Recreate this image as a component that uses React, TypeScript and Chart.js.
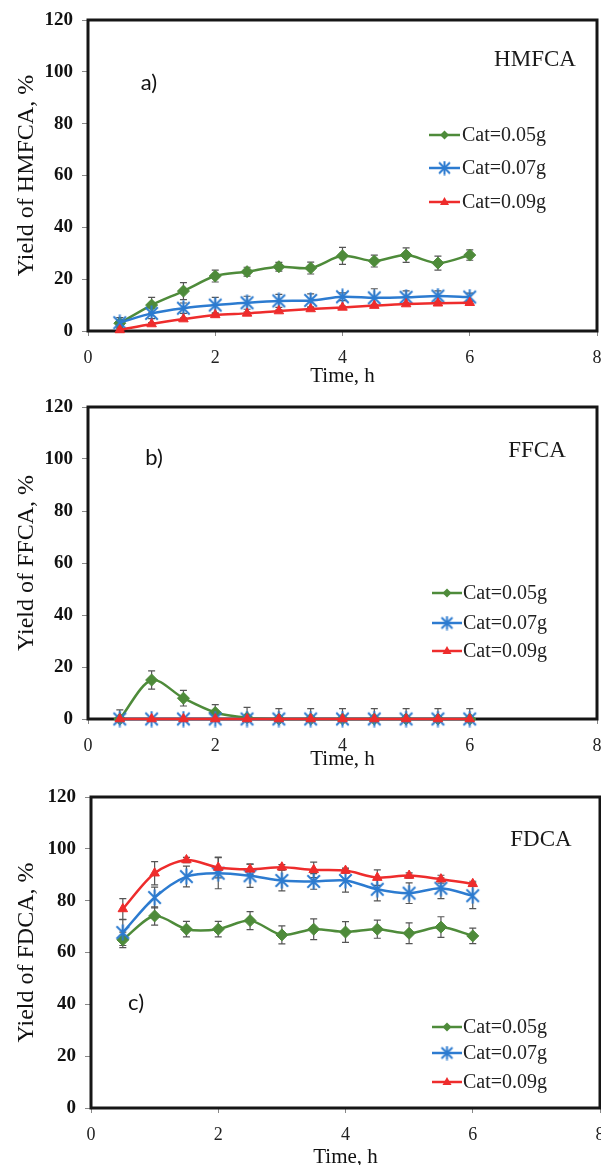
import React, { useEffect, useRef } from "react";
import { Chart, registerables } from "chart.js";

Chart.register(...registerables);

// ---------------- DATA ----------------
const times = [0.5, 1, 1.5, 2, 2.5, 3, 3.5, 4, 4.5, 5, 5.5, 6];
const seriesLabels = ["Cat=0.05g", "Cat=0.07g", "Cat=0.09g"];
const xTickValues = [0, 2, 4, 6, 8];
const yTickValues = [0, 20, 40, 60, 80, 100, 120];

// a) HMFCA
const hmfca005 = [3, 10, 15.4, 21.2, 22.9, 24.8, 24.3, 29, 27, 29.3, 26.2, 29.3];
const hmfca007 = [3.2, 6.8, 8.8, 10, 10.9, 11.6, 11.8, 13.2, 12.8, 13, 13.5, 13.1];
const hmfca009 = [0.4, 2.7, 4.6, 6.2, 6.8, 7.7, 8.5, 9.1, 9.8, 10.4, 10.7, 10.9];
const hmfca005Err = [1.5, 3, 3.3, 2.3, 1.7, 1.7, 2.3, 3.3, 2.3, 2.8, 2.7, 2];
const hmfca007Err = [2, 2, 2, 3, 2.5, 2.5, 2.5, 1.5, 3.5, 2.5, 2, 1.5];
const hmfca009Err = [0.5, 0.5, 0.5, 0.5, 0.5, 0.5, 0.5, 0.5, 0.5, 0.5, 0.5, 0.5];

// b) FFCA
const ffca005 = [0, 15, 8, 2.5, 0.5, 0, 0, 0, 0, 0, 0, 0];
const ffca007 = [0, 0, 0, 0, 0, 0, 0, 0, 0, 0, 0, 0];
const ffca009 = [0, 0, 0, 0, 0, 0, 0, 0, 0, 0, 0, 0];
const ffca005Err = [3.5, 3.5, 3, 3, 4, 4, 4, 4, 4, 4, 4, 4];
const ffca007Err = [0, 0, 0, 0, 0, 0, 0, 0, 0, 0, 0, 0];
const ffca009Err = [0, 0, 0, 0, 0, 0, 0, 0, 0, 0, 0, 0];

// c) FDCA
const fdca005 = [64.9, 74.1, 69, 69, 72.3, 66.8, 69, 67.9, 69, 67.4, 69.8, 66.4];
const fdca007 = [67.7, 81.2, 89.3, 90.6, 89.6, 87.8, 87.4, 87.8, 84.4, 82.9, 84.8, 81.9];
const fdca009 = [76.8, 90.6, 95.7, 92.8, 92.1, 92.9, 91.9, 91.6, 88.9, 89.7, 88.3, 86.5];
const fdca005Err = [3, 3.5, 3, 3, 3.5, 3.5, 4, 4, 3.5, 4, 4, 3];
const fdca007Err = [5, 4, 4, 6, 4.5, 4, 3, 4.5, 4.5, 4, 4, 5];
const fdca009Err = [4, 4.5, 1, 4, 2, 1, 3, 1, 3, 1, 1.5, 1];

// ---------------- STYLE ----------------
const GREEN = "#4E8B3A";
const BLUE = "#2C7BD0";
const RED = "#EE2C2C";
const SERIF = "'Liberation Serif', 'Times New Roman', serif";
const W = 601;
const RIGHT_GAP = 10; // space Chart.js keeps right of the plot area

type Panel = {
  yTitle: string;
  compound: string;
  tag: string;
  series: number[][];
  errors: number[][];
  top: number;
  canvasH: number;
  area: { top: number; bottom: number; left: number; right: number };
  legendYs: number[];
  legendX1: number;
  legendX2: number;
  legendTextX: number;
  compoundPos: [number, number];
  tagPos: [number, number];
  xTitlePad: number;
};

const panels: Panel[] = [
  {
    yTitle: "Yield of HMFCA, %",
    compound: "HMFCA",
    tag: "a)",
    series: [hmfca005, hmfca007, hmfca009],
    errors: [hmfca005Err, hmfca007Err, hmfca009Err],
    top: 0,
    canvasH: 385,
    area: { top: 20, bottom: 331, left: 88, right: 596 },
    legendYs: [135, 168, 202],
    legendX1: 429,
    legendX2: 460,
    legendTextX: 462,
    compoundPos: [535, 60],
    tagPos: [149, 83],
    xTitlePad: -2,
  },
  {
    yTitle: "Yield of FFCA, %",
    compound: "FFCA",
    tag: "b)",
    series: [ffca005, ffca007, ffca009],
    errors: [ffca005Err, ffca007Err, ffca009Err],
    top: 385,
    canvasH: 385,
    area: { top: 22, bottom: 334, left: 88, right: 596 },
    legendYs: [208, 238, 266],
    legendX1: 432,
    legendX2: 462,
    legendTextX: 463,
    compoundPos: [537, 66],
    tagPos: [154, 73],
    xTitlePad: 0,
  },
  {
    yTitle: "Yield of FDCA, %",
    compound: "FDCA",
    tag: "c)",
    series: [fdca005, fdca007, fdca009],
    errors: [fdca005Err, fdca007Err, fdca009Err],
    top: 770,
    canvasH: 395,
    area: { top: 27, bottom: 338, left: 91, right: 599 },
    legendYs: [257, 283, 312],
    legendX1: 432,
    legendX2: 462,
    legendTextX: 463,
    compoundPos: [541, 70],
    tagPos: [136, 233],
    xTitlePad: -3,
  },
];

function makeStar(color: string, size: number, lw: number) {
  const c = document.createElement("canvas");
  c.width = size;
  c.height = size;
  const ctx = c.getContext("2d")!;
  ctx.strokeStyle = color;
  ctx.lineWidth = lw;
  const m = size / 2;
  const r = size / 2 - 0.5;
  const d = r * 0.78;
  ctx.beginPath();
  ctx.moveTo(m, m - r);
  ctx.lineTo(m, m + r);
  ctx.moveTo(m - d, m - d);
  ctx.lineTo(m + d, m + d);
  ctx.moveTo(m - d, m + d);
  ctx.lineTo(m + d, m - d);
  ctx.stroke();
  return c;
}

function PanelChart({ p }: { p: Panel }) {
  const ref = useRef<HTMLCanvasElement>(null);
  const cw = p.area.right + RIGHT_GAP;
  useEffect(() => {
    if (!ref.current) return;
    const star = makeStar(BLUE, 17, 2);
    const starLegend = makeStar(BLUE, 15, 2);
    const colors = [GREEN, BLUE, RED];
    const styles: any[] = ["rectRot", star, "triangle"];
    const radii = [6, 8, 5.5];

    const datasets = p.series.map((vals, i) => ({
      label: seriesLabels[i],
      data: times.map((t, j) => ({ x: t, y: vals[j] })),
      borderColor: colors[i],
      backgroundColor: colors[i],
      pointBackgroundColor: colors[i],
      pointBorderColor: colors[i],
      borderWidth: 2.5,
      pointStyle: styles[i],
      pointRadius: radii[i],
      pointBorderWidth: 1,
      tension: 0.3,
      order: 3 - i,
      clip: false as any,
    }));

    const framePlugin = {
      id: "frameAndErrors",
      beforeDatasetsDraw(chart: any) {
        const { ctx, chartArea, scales } = chart;
        const x = scales.x;
        const y = scales.y;
        ctx.save();
        ctx.beginPath();
        ctx.rect(chartArea.left, chartArea.top, chartArea.right - chartArea.left, chartArea.bottom - chartArea.top);
        ctx.clip();
        ctx.strokeStyle = "#555";
        ctx.lineWidth = 1.2;
        p.series.forEach((vals, i) => {
          vals.forEach((v, j) => {
            const e = p.errors[i][j];
            if (!e) return;
            const px = x.getPixelForValue(times[j]);
            const y1 = y.getPixelForValue(v + e);
            const y2 = y.getPixelForValue(v - e);
            ctx.beginPath();
            ctx.moveTo(px, y1);
            ctx.lineTo(px, y2);
            ctx.moveTo(px - 3.5, y1);
            ctx.lineTo(px + 3.5, y1);
            ctx.moveTo(px - 3.5, y2);
            ctx.lineTo(px + 3.5, y2);
            ctx.stroke();
          });
        });
        ctx.restore();
        ctx.save();
        ctx.strokeStyle = "#161616";
        ctx.lineWidth = 3;
        ctx.strokeRect(chartArea.left, chartArea.top, chartArea.right - chartArea.left, chartArea.bottom - chartArea.top);
        ctx.restore();
      },
    };

    const annotPlugin = {
      id: "annot",
      afterDraw(chart: any) {
        const ctx = chart.ctx;
        ctx.save();
        p.legendYs.forEach((ly, i) => {
          ctx.strokeStyle = colors[i];
          ctx.fillStyle = colors[i];
          ctx.lineWidth = 2.5;
          ctx.beginPath();
          ctx.moveTo(p.legendX1, ly);
          ctx.lineTo(p.legendX2, ly);
          ctx.stroke();
          const mx = (p.legendX1 + p.legendX2) / 2;
          if (i === 0) {
            const r = 4.5;
            ctx.beginPath();
            ctx.moveTo(mx, ly - r);
            ctx.lineTo(mx + r, ly);
            ctx.lineTo(mx, ly + r);
            ctx.lineTo(mx - r, ly);
            ctx.closePath();
            ctx.fill();
          } else if (i === 1) {
            ctx.drawImage(starLegend, mx - 7.5, ly - 7.5);
          } else {
            const r = 4.5;
            ctx.beginPath();
            ctx.moveTo(mx, ly - r * 1.1);
            ctx.lineTo(mx + r, ly + r * 0.65);
            ctx.lineTo(mx - r, ly + r * 0.65);
            ctx.closePath();
            ctx.fill();
          }
          ctx.fillStyle = "#222";
          ctx.font = `20px ${SERIF}`;
          ctx.textAlign = "left";
          ctx.textBaseline = "middle";
          ctx.fillText(seriesLabels[i], p.legendTextX, ly + 1);
        });
        ctx.fillStyle = "#1a1a1a";
        ctx.font = `23px ${SERIF}`;
        ctx.textAlign = "center";
        ctx.textBaseline = "middle";
        ctx.fillText(p.compound, p.compoundPos[0], p.compoundPos[1]);
        ctx.font = `22px Lato, 'Open Sans', sans-serif`;
        ctx.fillStyle = "#111";
        ctx.fillText(p.tag, p.tagPos[0], p.tagPos[1]);
        ctx.restore();
      },
    };

    const chart = new Chart(ref.current, {
      type: "line",
      data: { datasets: datasets as any },
      options: {
        responsive: false,
        animation: false,
        layout: {
          padding: { top: p.area.top, right: 0, bottom: 0, left: 0 },
        },
        plugins: { legend: { display: false }, tooltip: { enabled: false } },
        scales: {
          x: {
            type: "linear",
            min: 0,
            max: 8,
            afterBuildTicks: (s: any) => {
              s.ticks = xTickValues.map((v) => ({ value: v }));
            },
            afterFit: (s: any) => {
              s.height = p.canvasH - p.area.bottom;
              s.paddingLeft = 0;
              s.paddingRight = 0;
            },
            ticks: {
              font: { family: SERIF, size: 18 },
              color: "#222",
              padding: 11,
              maxRotation: 0,
              autoSkip: false,
            },
            grid: { display: true, drawOnChartArea: false, drawTicks: true, tickLength: 5, color: "#888" },
            border: { display: false },
            title: {
              display: true,
              text: "Time, h",
              font: { family: SERIF, size: 21, lineHeight: 1 },
              color: "#111",
              padding: { top: 0, bottom: p.xTitlePad },
            },
          },
          y: {
            type: "linear",
            min: 0,
            max: 120,
            afterBuildTicks: (s: any) => {
              s.ticks = yTickValues.map((v) => ({ value: v }));
            },
            afterFit: (s: any) => {
              s.width = p.area.left;
              s.paddingTop = 0;
              s.paddingBottom = 0;
            },
            ticks: {
              font: { family: SERIF, size: 19, weight: "bold" },
              color: "#111",
              padding: 9,
            },
            grid: { display: true, drawOnChartArea: false, drawTicks: true, tickLength: 6, color: "#888" },
            border: { display: false },
            title: {
              display: true,
              text: p.yTitle,
              font: { family: SERIF, size: 24, lineHeight: 1 },
              color: "#111",
              padding: { top: 15, bottom: 0 },
            },
          },
        },
      } as any,
      plugins: [framePlugin, annotPlugin],
    });
    return () => chart.destroy();
  }, [p]);

  return (
    <canvas
      ref={ref}
      width={cw}
      height={p.canvasH}
      style={{ position: "absolute", left: 0, top: p.top, width: cw, height: p.canvasH, display: "block" }}
    />
  );
}

export default function App() {
  return (
    <div
      style={{ position: "absolute", left: 0, top: 0, width: W, height: 1165, background: "#fff", overflow: "hidden" }}
    >
      {panels.map((p, i) => (
        <PanelChart key={i} p={p} />
      ))}
    </div>
  );
}
